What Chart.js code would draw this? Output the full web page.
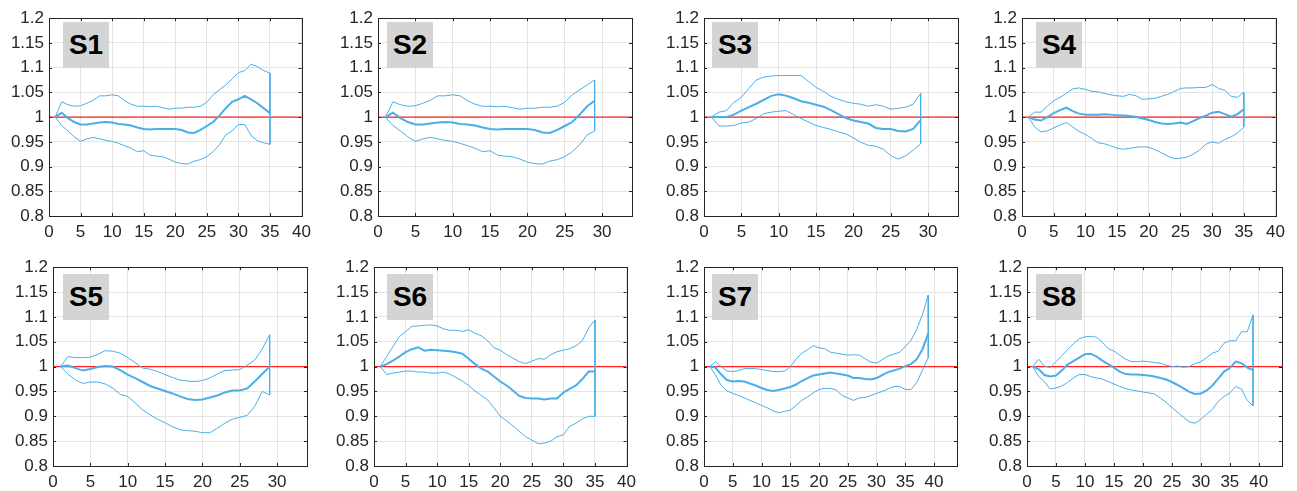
<!DOCTYPE html>
<html lang="en">
<head>
<meta charset="UTF-8">
<title>S1 - S8</title>
<script src="https://cdn.jsdelivr.net/npm/chart.js"></script>
<style>
  body { margin: 0; background: #fff; width: 1297px; height: 491px; position: relative; overflow: hidden; }
  .panel { position: absolute; }
  .tag {
    position: absolute; width: 46px; height: 46px; background: #d4d4d4; color: #000;
    font: bold 28px 'Liberation Sans', Arial, sans-serif; line-height: 46px; text-align: center;
  }
</style>
</head>
<body>
<script>
// values, index i -> x = i + 1
const s1Mean  = [1.0, 1.009, 0.998, 0.99, 0.985, 0.985, 0.987, 0.989, 0.99, 0.989, 0.986, 0.985, 0.983, 0.979, 0.976, 0.975, 0.976, 0.976, 0.976, 0.976, 0.974, 0.969, 0.968, 0.974, 0.982, 0.99, 1.003, 1.018, 1.031, 1.036, 1.043, 1.036, 1.028, 1.018, 1.008];
const s1Upper = [1.0, 1.031, 1.025, 1.022, 1.023, 1.028, 1.034, 1.043, 1.043, 1.045, 1.043, 1.033, 1.026, 1.022, 1.022, 1.021, 1.022, 1.019, 1.016, 1.018, 1.018, 1.02, 1.02, 1.022, 1.03, 1.045, 1.055, 1.065, 1.077, 1.09, 1.094, 1.107, 1.102, 1.094, 1.089];
const s1Lower = [1.0, 0.983, 0.972, 0.96, 0.951, 0.956, 0.959, 0.956, 0.953, 0.951, 0.947, 0.942, 0.937, 0.93, 0.932, 0.923, 0.921, 0.92, 0.915, 0.909, 0.906, 0.905, 0.911, 0.914, 0.92, 0.93, 0.944, 0.964, 0.972, 0.985, 0.985, 0.963, 0.952, 0.948, 0.945];

const s2Mean  = [1.0, 1.009, 0.998, 0.99, 0.985, 0.985, 0.987, 0.989, 0.99, 0.989, 0.986, 0.985, 0.983, 0.979, 0.976, 0.975, 0.976, 0.976, 0.976, 0.976, 0.974, 0.969, 0.968, 0.974, 0.982, 0.99, 1.005, 1.022, 1.033];
const s2Upper = [1.0, 1.031, 1.025, 1.022, 1.023, 1.028, 1.034, 1.043, 1.043, 1.045, 1.043, 1.033, 1.026, 1.022, 1.022, 1.021, 1.022, 1.019, 1.016, 1.018, 1.018, 1.02, 1.02, 1.022, 1.03, 1.045, 1.055, 1.065, 1.075];
const s2Lower = [1.0, 0.983, 0.972, 0.96, 0.951, 0.956, 0.959, 0.956, 0.953, 0.951, 0.947, 0.942, 0.937, 0.93, 0.932, 0.923, 0.921, 0.92, 0.915, 0.909, 0.906, 0.905, 0.911, 0.914, 0.92, 0.93, 0.944, 0.964, 0.972];

const s3Mean  = [1.0, 1.0, 1.0, 1.005, 1.013, 1.02, 1.027, 1.035, 1.043, 1.046, 1.043, 1.038, 1.032, 1.029, 1.025, 1.021, 1.014, 1.006, 0.998, 0.993, 0.99, 0.987, 0.978, 0.976, 0.976, 0.972, 0.971, 0.976, 0.994];
const s3Upper = [1.0, 1.01, 1.013, 1.03, 1.04, 1.058, 1.075, 1.081, 1.083, 1.084, 1.084, 1.084, 1.084, 1.072, 1.06, 1.052, 1.042, 1.036, 1.031, 1.028, 1.026, 1.022, 1.025, 1.022, 1.016, 1.018, 1.02, 1.026, 1.048];
const s3Lower = [1.0, 0.982, 0.982, 0.983, 0.988, 0.99, 0.997, 1.007, 1.01, 1.012, 1.013, 1.005, 0.997, 0.99, 0.983, 0.979, 0.975, 0.97, 0.966, 0.958, 0.949, 0.943, 0.941, 0.935, 0.922, 0.915, 0.922, 0.933, 0.946];

const s4Mean  = [1.0, 0.995, 0.993, 1.0, 1.008, 1.014, 1.019, 1.012, 1.007, 1.005, 1.005, 1.005, 1.006, 1.005, 1.004, 1.003, 1.002, 1.0, 0.997, 0.994, 0.99, 0.987, 0.986, 0.987, 0.989, 0.986, 0.992, 0.998, 1.003, 1.009, 1.011, 1.006, 1.001, 1.006, 1.016];
const s4Upper = [1.0, 1.01, 1.01, 1.022, 1.033, 1.04, 1.048, 1.057, 1.059, 1.056, 1.052, 1.051, 1.048, 1.045, 1.043, 1.042, 1.046, 1.043, 1.036, 1.037, 1.038, 1.042, 1.046, 1.052, 1.058, 1.059, 1.059, 1.06, 1.06, 1.066, 1.058, 1.054, 1.042, 1.04, 1.05];
const s4Lower = [1.0, 0.98, 0.97, 0.972, 0.978, 0.984, 0.989, 0.98, 0.971, 0.965, 0.957, 0.948, 0.946, 0.942, 0.937, 0.935, 0.937, 0.939, 0.94, 0.939, 0.934, 0.928, 0.921, 0.916, 0.917, 0.919, 0.925, 0.933, 0.945, 0.95, 0.947, 0.955, 0.96, 0.968, 0.98];

const s5Mean  = [1.0, 1.002, 0.997, 0.992, 0.995, 0.999, 1.001, 1.0, 0.993, 0.984, 0.977, 0.969, 0.961, 0.956, 0.951, 0.946, 0.94, 0.935, 0.933, 0.934, 0.938, 0.942, 0.948, 0.952, 0.952, 0.956, 0.97, 0.985, 1.0];
const s5Upper = [1.0, 1.02, 1.018, 1.018, 1.019, 1.025, 1.032, 1.031, 1.027, 1.018, 1.008, 0.997, 0.995, 0.99, 0.984, 0.978, 0.973, 0.971, 0.97, 0.972, 0.977, 0.985, 0.992, 0.993, 0.994, 1.003, 1.013, 1.035, 1.064];
const s5Lower = [1.0, 0.985, 0.973, 0.966, 0.969, 0.969, 0.965, 0.957, 0.944, 0.94, 0.927, 0.913, 0.903, 0.894, 0.887, 0.879, 0.873, 0.871, 0.87, 0.867, 0.867, 0.876, 0.886, 0.894, 0.898, 0.902, 0.92, 0.95, 0.943];

const s6Mean  = [1.0, 1.005, 1.012, 1.02, 1.029, 1.035, 1.039, 1.032, 1.034, 1.033, 1.032, 1.031, 1.029, 1.026, 1.016, 1.005, 0.996, 0.99, 0.98, 0.97, 0.962, 0.952, 0.941, 0.937, 0.936, 0.936, 0.934, 0.936, 0.936, 0.948, 0.955, 0.962, 0.975, 0.99, 0.99];
const s6Upper = [1.0, 1.02, 1.04, 1.06, 1.07, 1.081, 1.082, 1.083, 1.084, 1.082, 1.076, 1.073, 1.073, 1.071, 1.074, 1.067, 1.062, 1.052, 1.038, 1.033, 1.024, 1.017, 1.01, 1.006, 1.011, 1.016, 1.015, 1.024, 1.03, 1.033, 1.036, 1.042, 1.052, 1.078, 1.094];
const s6Lower = [1.0, 0.984, 0.987, 0.989, 0.991, 0.991, 0.989, 0.989, 0.987, 0.987, 0.989, 0.985, 0.978, 0.971, 0.962, 0.951, 0.942, 0.933, 0.917, 0.9, 0.891, 0.881, 0.87, 0.859, 0.852, 0.845, 0.846, 0.85, 0.859, 0.863, 0.88, 0.886, 0.895, 0.9, 0.9];

const s7Mean  = [1.0, 0.998, 0.984, 0.973, 0.97, 0.971, 0.97, 0.966, 0.962, 0.957, 0.953, 0.951, 0.953, 0.956, 0.959, 0.964, 0.971, 0.977, 0.982, 0.984, 0.986, 0.988, 0.986, 0.984, 0.982, 0.977, 0.977, 0.975, 0.974, 0.977, 0.983, 0.989, 0.992, 0.996, 1.001, 1.005, 1.015, 1.035, 1.067];
const s7Upper = [1.0, 1.01, 1.0, 0.991, 0.99, 0.992, 0.996, 0.996, 0.996, 0.994, 0.992, 0.99, 0.99, 0.991, 0.999, 1.015, 1.027, 1.034, 1.042, 1.038, 1.036, 1.029, 1.027, 1.025, 1.023, 1.024, 1.023, 1.016, 1.009, 1.007, 1.014, 1.021, 1.025, 1.029, 1.04, 1.053, 1.075, 1.105, 1.144];
const s7Lower = [1.0, 0.983, 0.962, 0.951, 0.946, 0.942, 0.937, 0.932, 0.927, 0.922, 0.917, 0.911, 0.907, 0.91, 0.912, 0.922, 0.932, 0.939, 0.947, 0.954, 0.956, 0.956, 0.953, 0.942, 0.937, 0.932, 0.937, 0.938, 0.942, 0.946, 0.95, 0.955, 0.96, 0.96, 0.954, 0.954, 0.968, 0.993, 1.018];

const s8Mean  = [1.0, 0.995, 0.983, 0.98, 0.982, 0.992, 1.004, 1.011, 1.018, 1.025, 1.026, 1.02, 1.012, 1.005, 0.998, 0.99, 0.985, 0.984, 0.984, 0.983, 0.982, 0.98, 0.977, 0.974, 0.969, 0.963, 0.956, 0.949, 0.945, 0.946, 0.952, 0.962, 0.976, 0.99, 0.997, 1.01, 1.007, 0.998, 0.993];
const s8Upper = [1.0, 1.015, 1.001, 0.998, 1.01, 1.022, 1.034, 1.046, 1.056, 1.06, 1.061, 1.059, 1.049, 1.036, 1.031, 1.023, 1.015, 1.01, 1.01, 1.011, 1.01, 1.008, 1.007, 1.003, 1.0, 1.001, 0.999, 1.0, 1.006, 1.01, 1.018, 1.027, 1.031, 1.047, 1.052, 1.052, 1.07, 1.07, 1.104];
const s8Lower = [1.0, 0.98, 0.97, 0.955, 0.957, 0.961, 0.968, 0.977, 0.984, 0.984, 0.98, 0.977, 0.975, 0.97, 0.965, 0.96, 0.956, 0.953, 0.951, 0.949, 0.947, 0.945, 0.937, 0.928, 0.918, 0.908, 0.898, 0.889, 0.886, 0.894, 0.904, 0.914, 0.93, 0.94, 0.947, 0.96, 0.955, 0.932, 0.921];

const panelNames = ['S1', 'S2', 'S3', 'S4', 'S5', 'S6', 'S7', 'S8'];
const panelXMax = [40, 34, 34, 40, 34, 40, 44, 44];
const yMin = 0.8, yMax = 1.2, yStep = 0.05, xStep = 5;
const refLevel = 1;

// layout of each axes box on the page: [left, top, width, height] and the label box corner
const plotBoxes = [
  [49, 15, 254, 201], [378, 15, 254, 201], [704, 15, 254, 201], [1022, 15, 255, 201],
  [53, 264, 254, 202], [374, 264, 254, 202], [704, 264, 253, 202], [1027, 264, 255, 202]
];
const tagCorners = [[63, 22], [387, 22], [712, 22], [1036, 22], [63, 274], [387, 274], [712, 274], [1036, 274]];

const series = [
  [s1Mean, s1Upper, s1Lower], [s2Mean, s2Upper, s2Lower], [s3Mean, s3Upper, s3Lower], [s4Mean, s4Upper, s4Lower],
  [s5Mean, s5Upper, s5Lower], [s6Mean, s6Upper, s6Lower], [s7Mean, s7Upper, s7Lower], [s8Mean, s8Upper, s8Lower]
];

const BLUE = '#4aaee8';
const RED = '#ff1f1f';
const INK = '#262626';
const FONT = "'Liberation Sans', Arial, Helvetica, sans-serif";

const YW = 48, PT = 12, PR = 14, XH = 30;

// box outline plus inward tick marks (matlab look)
const frame = {
  id: 'frame',
  afterDraw(chart) {
    const { ctx, chartArea: a, scales } = chart;
    ctx.save();
    ctx.strokeStyle = INK;
    ctx.lineWidth = 1;
    ctx.beginPath();
    scales.x.ticks.forEach(t => {
      const px = Math.round(scales.x.getPixelForValue(t.value)) + 0.5;
      ctx.moveTo(px, a.bottom); ctx.lineTo(px, a.bottom - 3);
      ctx.moveTo(px, a.top); ctx.lineTo(px, a.top + 3);
    });
    scales.y.ticks.forEach(t => {
      const py = Math.round(scales.y.getPixelForValue(t.value)) + 0.5;
      ctx.moveTo(a.left, py); ctx.lineTo(a.left + 3, py);
      ctx.moveTo(a.right, py); ctx.lineTo(a.right - 3, py);
    });
    ctx.stroke();
    ctx.strokeRect(Math.round(a.left) + 0.5, Math.round(a.top) + 0.5,
      Math.round(a.right - a.left), Math.round(a.bottom - a.top));
    ctx.restore();
  }
};

panelNames.forEach((name, k) => {
  const [mean, upper, lower] = series[k];
  const [L, T, W, H] = plotBoxes[k];

  const box = document.createElement('div');
  box.className = 'panel';
  box.style.left = (L - YW) + 'px';
  box.style.top = (T - PT) + 'px';
  const canvas = document.createElement('canvas');
  canvas.width = YW + W + PR;
  canvas.height = PT + H + XH;
  box.appendChild(canvas);
  document.body.appendChild(box);

  const tag = document.createElement('div');
  tag.className = 'tag';
  tag.style.left = tagCorners[k][0] + 'px';
  tag.style.top = tagCorners[k][1] + 'px';
  tag.textContent = name;
  document.body.appendChild(tag);

  // outline of the band: upper forward, lower backward
  const band = upper.map((v, i) => ({ x: i + 1, y: v }))
    .concat(lower.map((v, i) => ({ x: i + 1, y: v })).reverse());
  const meanPts = mean.map((v, i) => ({ x: i + 1, y: v }));
  const refPts = [{ x: 0, y: refLevel }, { x: panelXMax[k], y: refLevel }];

  new Chart(canvas, {
    type: 'scatter',
    data: {
      datasets: [
        { data: band, borderColor: BLUE, borderWidth: 1, showLine: true, pointRadius: 0, fill: false },
        { data: meanPts, borderColor: BLUE, borderWidth: 2, showLine: true, pointRadius: 0, fill: false },
        { data: refPts, borderColor: RED, borderWidth: 1.3, showLine: true, pointRadius: 0, fill: false }
      ]
    },
    options: {
      responsive: false,
      animation: false,
      events: [],
      layout: { padding: { left: 0, top: PT, right: PR, bottom: 0 } },
      plugins: { legend: { display: false }, tooltip: { enabled: false } },
      scales: {
        x: {
          type: 'linear', min: 0, max: panelXMax[k],
          afterFit: s => { s.height = XH; },
          border: { display: false },
          grid: { color: '#e4e4e4', drawTicks: false },
          ticks: { stepSize: xStep, includeBounds: false, padding: 6, color: INK, font: { family: FONT, size: 17 }, maxRotation: 0 }
        },
        y: {
          min: yMin, max: yMax,
          afterFit: s => { s.width = YW; },
          border: { display: false },
          grid: { color: '#e4e4e4', drawTicks: false },
          ticks: {
            stepSize: yStep, padding: 5, color: INK, font: { family: FONT, size: 17 },
            callback: v => String(parseFloat(v.toFixed(2)))
          }
        }
      }
    },
    plugins: [frame]
  });
});
</script>
</body>
</html>
